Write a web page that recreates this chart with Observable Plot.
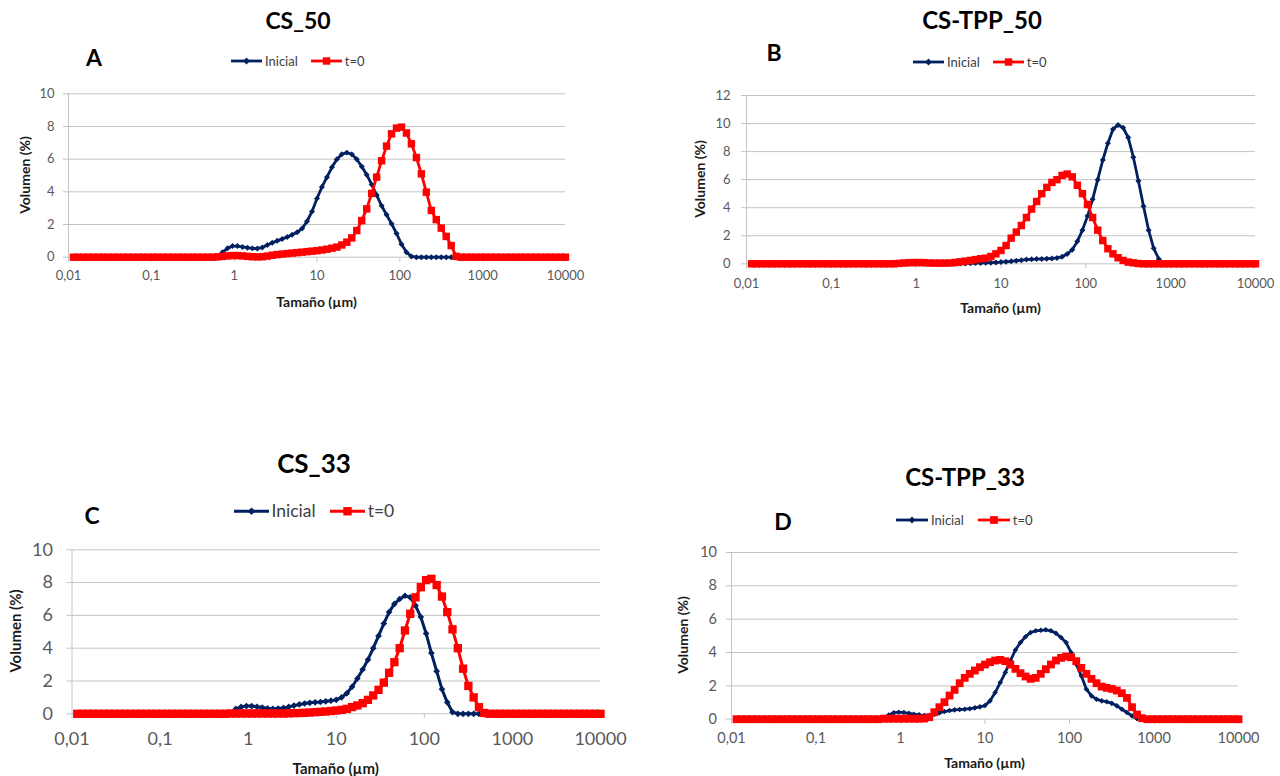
<!DOCTYPE html>
<html><head><meta charset="utf-8">
<script src="https://cdn.jsdelivr.net/npm/d3@7"></script>
<script src="https://cdn.jsdelivr.net/npm/@observablehq/plot@0.6"></script>
<style>
body{margin:0;background:#fff;font-family:Lato,"Liberation Sans",sans-serif;}
#root{position:relative;width:1280px;height:776px;overflow:hidden;background:#fff;}
.t{position:absolute;transform:translate(-50%,-50%);white-space:nowrap;line-height:1;}
.ttl{font-weight:700;color:#000;}
.let{font-weight:700;color:#000;font-size:23px;}
.ax{font-weight:700;color:#1a1a1a;}
.yt{transform:translate(-50%,-50%) rotate(-90deg);}
.leg{position:absolute;display:flex;align-items:center;white-space:nowrap;color:#404040;transform:translateY(-50%);line-height:1;}
.panel{position:absolute;}
</style></head><body><div id="root"></div>
<script>
// Particle size classes (µm)
const sizes = [
0.01148,0.01318,0.01514,0.01738,0.01995,0.02291,0.0263,0.0302,0.03467,0.03981,
0.04571,0.05248,0.06026,0.06918,0.07943,0.0912,0.1047,0.1202,0.138,0.1585,
0.182,0.2089,0.2399,0.2754,0.3162,0.3631,0.4169,0.4786,0.5495,0.631,
0.7244,0.8318,0.955,1.096,1.259,1.445,1.66,1.905,2.188,2.512,
2.884,3.311,3.802,4.365,5.012,5.754,6.607,7.586,8.71,10,
11.48,13.18,15.14,17.38,19.95,22.91,26.3,30.2,34.67,39.81,
45.71,52.48,60.26,69.18,79.43,91.2,104.7,120.2,138,158.5,
182,208.9,239.9,275.4,316.2,363.1,416.9,478.6,549.5,631,
724.4,831.8,955,1096,1259,1445,1660,1905,2188,2512,
2884,3311,3802,4365,5012,5754,6607,7586,8710,10000];

const seriesNames = ["Inicial","t=0"];
const xTicks = [0.01,0.1,1,10,100,1000,10000];
const xTickLabels = ["0,01","0,1","1","10","100","1000","10000"];
const panelTitles = ["CS_50","CS-TPP_50","CS_33","CS-TPP_33"];
const panelLetters = ["A","B","C","D"];
const yTicks10 = [0,2,4,6,8,10];
const yTicks12 = [0,2,4,6,8,10,12];

// Volumen (%) — CS_50
const csA_inicial = [
0,0,0,0,0,0,0,0,0,0,
0,0,0,0,0,0,0,0,0,0,
0,0,0,0,0,0,0,0,0,0.05,
0.3,0.55,0.68,0.68,0.63,0.58,0.54,0.53,0.6,0.75,
0.88,1.0,1.12,1.24,1.37,1.52,1.75,2.2,2.8,3.6,
4.3,4.9,5.5,6.0,6.3,6.4,6.3,6.0,5.55,5.05,
4.45,3.8,3.15,2.6,2.05,1.45,0.8,0.3,0.05,0,
0,0,0,0,0,0,0,0,0,0,
0,0,0,0,0,0,0,0,0,0,
0,0,0,0,0,0,0,0,0,0];
const csA_t0 = [
0,0,0,0,0,0,0,0,0,0,
0,0,0,0,0,0,0,0,0,0,
0,0,0,0,0,0,0,0,0,0.02,
0.05,0.08,0.1,0.1,0.08,0.05,0.03,0.02,0.03,0.07,
0.12,0.16,0.19,0.22,0.25,0.28,0.31,0.34,0.37,0.4,
0.44,0.49,0.55,0.62,0.75,0.92,1.18,1.63,2.24,2.96,
3.9,4.9,5.9,6.8,7.55,7.9,7.96,7.6,6.94,6.1,
5.1,3.98,2.86,2.3,1.78,1.27,0.71,0.05,0,0,
0,0,0,0,0,0,0,0,0,0,
0,0,0,0,0,0,0,0,0,0];

// CS-TPP_50
const csB_inicial = [
0,0,0,0,0,0,0,0,0,0,
0,0,0,0,0,0,0,0,0,0,
0,0,0,0,0,0,0,0,0,0,
0,0,0,0,0,0,0,0,0,0,
0.01,0.02,0.03,0.04,0.05,0.06,0.07,0.08,0.1,0.12,
0.15,0.18,0.22,0.26,0.3,0.32,0.34,0.35,0.36,0.38,
0.42,0.5,0.7,1.0,1.6,2.4,3.4,4.6,6.0,7.4,
8.6,9.6,9.9,9.7,9.0,7.6,5.9,4.1,2.4,1.1,
0.35,0,0,0,0,0,0,0,0,0,
0,0,0,0,0,0,0,0,0,0];
const csB_t0 = [
0,0,0,0,0,0,0,0,0,0,
0,0,0,0,0,0,0,0,0,0,
0,0,0,0,0,0,0,0,0,0.03,
0.06,0.08,0.09,0.09,0.08,0.06,0.05,0.05,0.05,0.06,
0.1,0.14,0.19,0.24,0.3,0.36,0.4,0.52,0.71,0.95,
1.3,1.83,2.26,2.73,3.3,3.9,4.44,5.0,5.45,5.8,
6.0,6.3,6.4,6.2,5.6,5.0,4.23,3.3,2.4,1.66,
1.07,0.71,0.43,0.24,0.12,0.07,0.02,0,0,0,
0,0,0,0,0,0,0,0,0,0,
0,0,0,0,0,0,0,0,0,0];

// CS_33
const csC_inicial = [
0,0,0,0,0,0,0,0,0,0,
0,0,0,0,0,0,0,0,0,0,
0,0,0,0,0,0,0,0,0,0.05,
0.3,0.42,0.47,0.47,0.43,0.38,0.33,0.3,0.32,0.36,
0.42,0.5,0.57,0.63,0.67,0.7,0.72,0.76,0.8,0.85,
1.0,1.25,1.65,2.15,2.7,3.3,4.0,4.75,5.5,6.2,
6.7,7.0,7.2,7.1,6.6,5.9,4.9,3.7,2.6,1.5,
0.7,0.1,0,0,0,0,0,0,0,0,
0,0,0,0,0,0,0,0,0,0,
0,0,0,0,0,0,0,0,0,0];
const csC_t0 = [
0,0,0,0,0,0,0,0,0,0,
0,0,0,0,0,0,0,0,0,0,
0,0,0,0,0,0,0,0,0,0.02,
0.02,0.02,0.02,0.02,0.02,0.02,0.02,0.02,0.02,0.02,
0.03,0.04,0.05,0.06,0.08,0.1,0.12,0.14,0.17,0.2,
0.24,0.3,0.41,0.51,0.65,0.85,1.12,1.46,1.9,2.5,
3.15,4.0,5.08,6.1,7.1,7.72,8.15,8.23,7.85,7.15,
6.2,5.15,4.0,2.75,1.7,1.0,0.4,0.05,0,0,
0,0,0,0,0,0,0,0,0,0,
0,0,0,0,0,0,0,0,0,0];

// CS-TPP_33
const csD_inicial = [
0,0,0,0,0,0,0,0,0,0,
0,0,0,0,0,0,0,0,0,0,
0,0,0,0,0,0,0,0,0,0.02,
0.25,0.38,0.42,0.4,0.35,0.3,0.26,0.22,0.22,0.28,
0.38,0.46,0.52,0.56,0.58,0.6,0.63,0.68,0.74,0.82,
1.1,1.6,2.2,2.8,3.5,4.15,4.6,4.95,5.2,5.3,
5.33,5.36,5.3,5.15,4.9,4.6,4.0,3.3,2.6,1.8,
1.4,1.2,1.1,1.05,0.95,0.8,0.6,0.4,0.2,0.03,
0,0,0,0,0,0,0,0,0,0,
0,0,0,0,0,0,0,0,0,0];
const csD_t0 = [
0,0,0,0,0,0,0,0,0,0,
0,0,0,0,0,0,0,0,0,0,
0,0,0,0,0,0,0,0,0,0.03,
0.03,0.03,0.03,0.03,0.03,0.03,0.03,0.04,0.12,0.42,
0.72,1.02,1.42,1.76,2.16,2.48,2.72,2.92,3.12,3.28,
3.42,3.52,3.56,3.48,3.28,3.02,2.76,2.56,2.42,2.48,
2.72,3.0,3.28,3.52,3.68,3.76,3.72,3.48,3.08,2.72,
2.42,2.16,1.96,1.88,1.82,1.72,1.56,1.28,0.72,0.28,
0.06,0,0,0,0,0,0,0,0,0,
0,0,0,0,0,0,0,0,0,0];

const NAVY = "#002060", RED = "#ff0000", GRID = "#c4c4c4", TICKTXT = "#595959";
const root = document.getElementById("root");

function addText(cls, txt, x, y, size) {
  const d = document.createElement("div");
  d.className = "t " + cls;
  d.textContent = txt;
  d.style.left = x + "px"; d.style.top = y + "px";
  if (size) d.style.fontSize = size + "px";
  root.appendChild(d);
}

function addLegend(c) {
  const d = document.createElement("div");
  d.className = "leg";
  d.style.left = c.x + "px"; d.style.top = c.y + "px"; d.style.fontSize = c.font + "px";
  const mk = [
    (m) => `<path d="M${m},${7 - c.dia}L${m + c.dia},7L${m},${7 + c.dia}L${m - c.dia},7Z" fill="${NAVY}"/>`,
    (m) => `<rect x="${m - c.sq / 2}" y="${7 - c.sq / 2}" width="${c.sq}" height="${c.sq}" fill="${RED}"/>`
  ];
  const cols = [NAVY, RED];
  let html = "";
  seriesNames.forEach((nm, j) => {
    html += `<svg width="${c.lw}" height="14" style="overflow:visible;margin-right:3px;${j ? "margin-left:" + c.gap + "px" : ""}"><line x1="0" x2="${c.lw}" y1="7" y2="7" stroke="${cols[j]}" stroke-width="2.8"/>${mk[j](c.lw / 2)}</svg><span>${nm}</span>`;
  });
  d.innerHTML = html;
  root.appendChild(d);
}

function addPanel(c) {
  const ini = sizes.map((s, i) => ({size: s, v: c.ini[i]}));
  const t0 = sizes.map((s, i) => ({size: s, v: c.t0[i]}));
  const yMax = c.yTicks[c.yTicks.length - 1];
  const chart = Plot.plot({
    width: c.w, height: c.h,
    marginLeft: c.fl - c.sx, marginRight: c.sx + c.w - c.fr,
    marginTop: c.ft - c.sy, marginBottom: c.sy + c.h - c.fb,
    style: {fontFamily: "Lato, 'Liberation Sans', sans-serif", fontSize: c.tickFont + "px", color: TICKTXT, background: "transparent", overflow: "visible"},
    x: {type: "log", domain: [0.01, 10000]},
    y: {domain: [0, yMax]},
    marks: [
      Plot.gridY(c.yTicks, {stroke: GRID, strokeOpacity: 1, strokeWidth: 1}),
      Plot.ruleX([0.01], {y1: 0, y2: yMax, stroke: GRID, strokeWidth: 1}),
      Plot.axisY(c.yTicks, {tickSize: 5, tickPadding: c.yPad, stroke: GRID, fill: TICKTXT, label: null}),
      Plot.axisX(xTicks, {tickSize: 5, tickPadding: c.xPad, stroke: GRID, fill: TICKTXT, label: null,
        tickFormat: (d) => xTickLabels[xTicks.indexOf(d)]}),
      Plot.line(ini, {x: "size", y: "v", stroke: NAVY, strokeWidth: c.lwid, curve: "linear"}),
      Plot.dot(ini, {x: "size", y: "v", symbol: "diamond2", r: c.rd, fill: NAVY, stroke: "none"}),
      Plot.line(t0, {x: "size", y: "v", stroke: RED, strokeWidth: c.lwid, curve: "linear"}),
      Plot.dot(t0, {x: "size", y: "v", symbol: "square", r: c.rs, fill: RED, stroke: "none"})
    ]
  });
  const wrap = document.createElement("div");
  wrap.className = "panel";
  wrap.style.left = c.sx + "px"; wrap.style.top = c.sy + "px";
  wrap.appendChild(chart);
  root.appendChild(wrap);

  addText("ttl", c.title, c.titleX, c.titleY, c.titleSize);
  addText("let", c.letter, c.letX, c.letY);
  addText("ax yt", "Volumen (%)", c.ytX, (c.ft + c.fb) / 2, c.axSize);
  addText("ax", "Tamaño (µm)", (c.fl + c.fr) / 2, c.xtY, c.axSize);
  addLegend(c.legend);
}

const panels = [
  {ini: csA_inicial, t0: csA_t0, title: panelTitles[0], letter: panelLetters[0], yTicks: yTicks10,
   sx: 0, sy: 80, w: 640, h: 224, fl: 68, fr: 565, ft: 93.3, fb: 256.7,
   tickFont: 13, xPad: 9, yPad: 9, lwid: 2.8, rd: 2.7, rs: 4.2,
   titleX: 298, titleY: 20, titleSize: 23, letX: 94, letY: 57, ytX: 25, xtY: 302, axSize: 14,
   legend: {x: 231, y: 61, font: 13, lw: 31, gap: 13, dia: 3.4, sq: 7.4}},
  {ini: csB_inicial, t0: csB_t0, title: panelTitles[1], letter: panelLetters[1], yTicks: yTicks12,
   sx: 640, sy: 80, w: 640, h: 230, fl: 746, fr: 1255, ft: 95, fb: 263.3,
   tickFont: 13, xPad: 10, yPad: 11, lwid: 2.8, rd: 2.7, rs: 4.2,
   titleX: 982, titleY: 20, titleSize: 24, letX: 774, letY: 52, ytX: 700, xtY: 308, axSize: 14,
   legend: {x: 913, y: 62, font: 13, lw: 31, gap: 13, dia: 3.4, sq: 7.4}},
  {ini: csC_inicial, t0: csC_t0, title: panelTitles[2], letter: panelLetters[2], yTicks: yTicks10,
   sx: 0, sy: 530, w: 640, h: 234, fl: 71.5, fr: 600, ft: 549.3, fb: 713.3,
   tickFont: 18, xPad: 13, yPad: 14, lwid: 3, rd: 3, rs: 4.7,
   titleX: 314, titleY: 463, titleSize: 26, letX: 92, letY: 515, ytX: 15, xtY: 768, axSize: 15,
   legend: {x: 233.5, y: 511, font: 17.5, lw: 35, gap: 14, dia: 3.8, sq: 8.4}},
  {ini: csD_inicial, t0: csD_t0, title: panelTitles[3], letter: panelLetters[3], yTicks: yTicks10,
   sx: 640, sy: 535, w: 640, h: 230, fl: 731, fr: 1238, ft: 552, fb: 718.7,
   tickFont: 14.5, xPad: 9, yPad: 9.5, lwid: 2.8, rd: 2.5, rs: 4.4,
   titleX: 965, titleY: 477, titleSize: 24, letX: 783, letY: 521, ytX: 683, xtY: 763, axSize: 14,
   legend: {x: 896, y: 520, font: 13, lw: 32, gap: 14, dia: 3.4, sq: 7.8}}
];

panels.forEach(addPanel);
</script></body></html>
